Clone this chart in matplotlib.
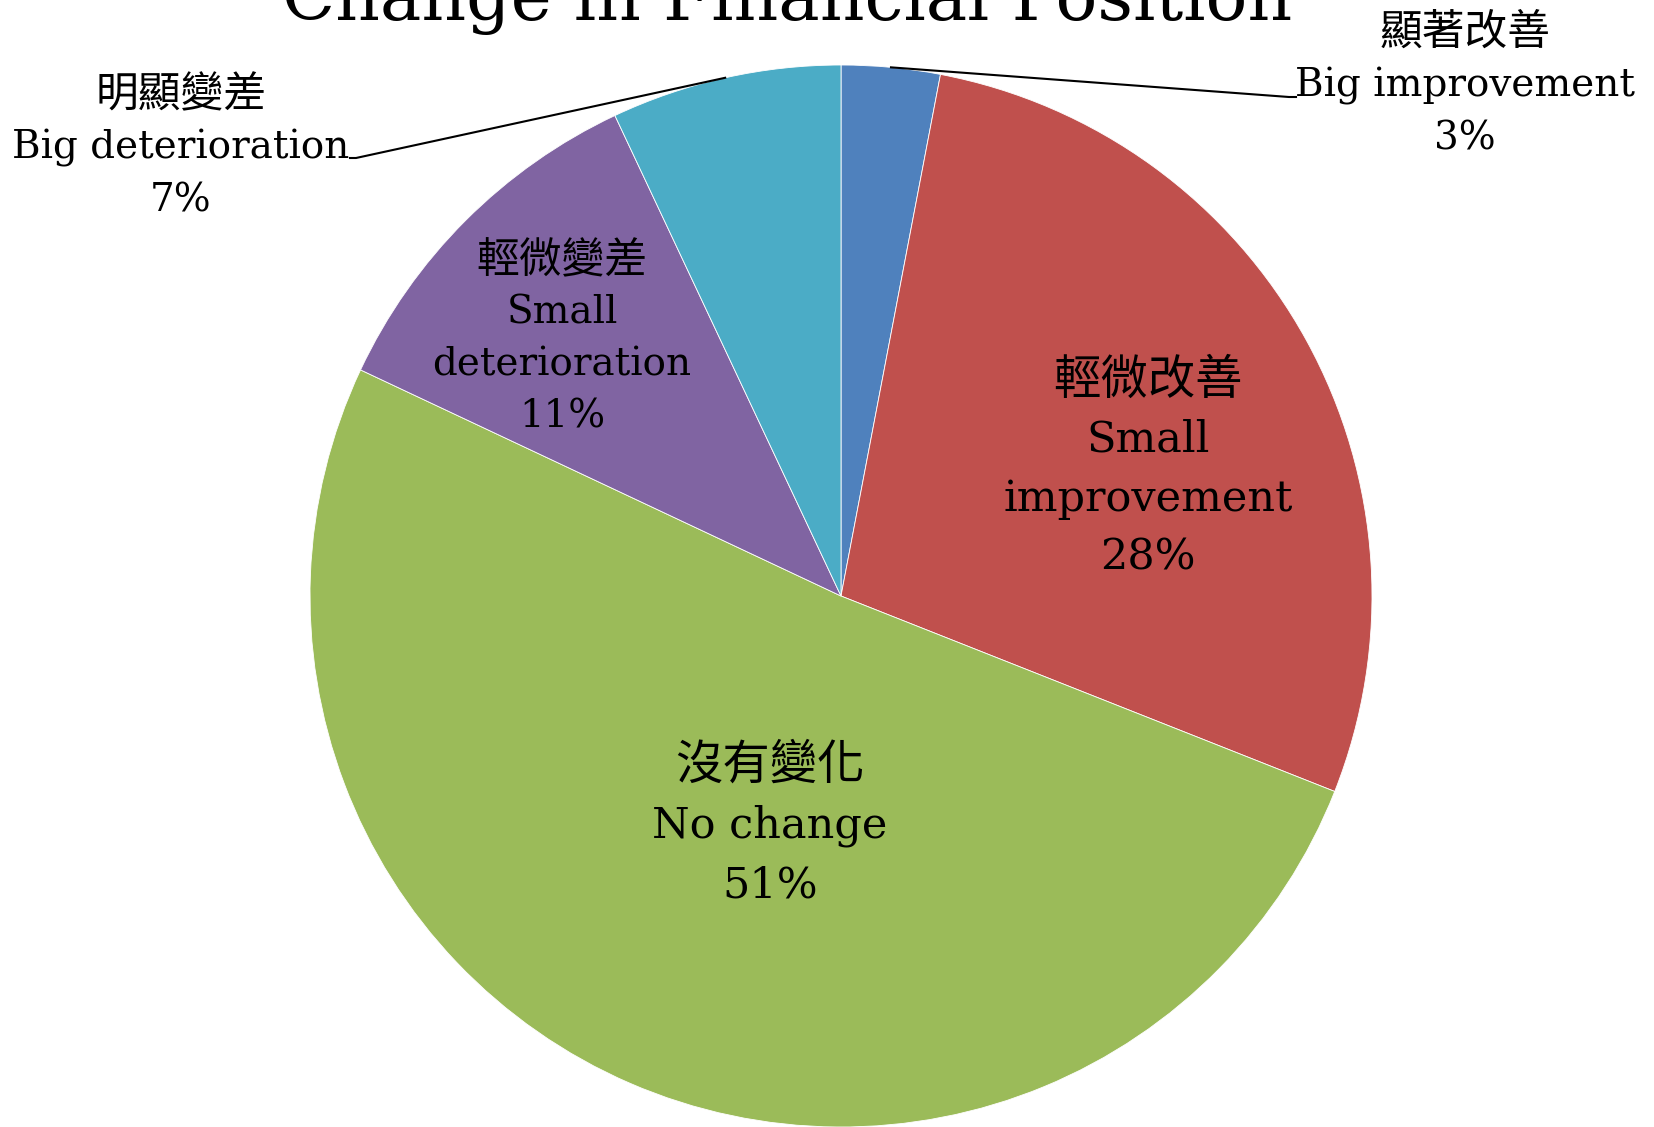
import numpy as np
import matplotlib
matplotlib.use('Agg')
import matplotlib.pyplot as plt

# Survey answers, clockwise from 12 o'clock
labels_zh = ['顯著改善', '輕微改善', '沒有變化', '輕微變差', '明顯變差']
labels_en = [['Big improvement'], ['Small', 'improvement'], ['No change'],
             ['Small', 'deterioration'], ['Big deterioration']]
shares = [3, 28, 51, 11, 7]
colors = ['#4F81BD', '#C0504D', '#9BBB59', '#8064A2', '#4BACC6']
title = 'Change in Financial Position'

plt.rcParams['font.family'] = ['DejaVu Serif', 'Noto Sans CJK TC']

W, H = 1654, 1127
fig = plt.figure(figsize=(W / 100, H / 100), dpi=100)
ax = fig.add_axes([0, 0, 1, 1])

cx, cy, r = 841, H - 596, 531
wedges, _ = ax.pie(shares, colors=colors, startangle=90, counterclock=False,
                   center=(cx, cy), radius=r, frame=True,
                   wedgeprops=dict(edgecolor='white', linewidth=0.6))
ax.set_xlim(0, W)
ax.set_ylim(0, H)
ax.axis('off')
ax.set_aspect('equal')

ax.text(W / 2 - 40, H - 20, title, ha='center', va='baseline', fontsize=50)

# label layout: (center x, first line y from top, line step, font size)
layout = [
    (1465, 33, 53, 28),
    (1148, 381, 59, 31),
    (770, 766, 60, 31),
    (562, 261, 52, 28),
    (181, 95, 53, 28),
]

for i, (lx, ly, step, fs) in enumerate(layout):
    lines = [labels_zh[i]] + labels_en[i] + ['%d%%' % shares[i]]
    for k, s in enumerate(lines):
        size = fs * 1.1 if k == 0 else fs
        ax.text(lx, H - (ly + k * step), s, ha='center', va='center', fontsize=size)

# leader lines for the two outside labels
def wedge_mid(w):
    a = np.deg2rad((w.theta1 + w.theta2) / 2)
    return cx + r * np.cos(a), cy + r * np.sin(a)

x0, y0 = wedge_mid(wedges[0])
ax.plot([x0, 1289, 1296], [y0, H - 97, H - 97], color='black', lw=1.5)
x0, y0 = wedge_mid(wedges[4])
ax.plot([x0, 356, 350], [y0, H - 158, H - 158], color='black', lw=1.5)

fig.savefig('out.png', dpi=100)
